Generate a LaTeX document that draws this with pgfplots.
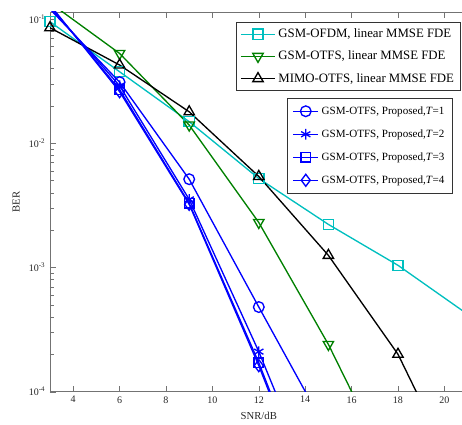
\documentclass[border=0pt]{standalone}
\usepackage{fontspec}
\setmainfont{Liberation Serif}
\usepackage{pgfplots}
\pgfplotsset{compat=1.18}
\definecolor{mcyan}{rgb}{0,0.75,0.75}
\definecolor{mgreen}{rgb}{0,0.5,0}
\begin{document}
\begin{tikzpicture}
\useasboundingbox (0,0) rectangle (346.5pt,318.75pt);
\begin{axis}[
  at={(37.5pt,25pt)}, anchor=south west,
  scale only axis, width=313.2pt, height=284.8pt,
  xmin=3, xmax=21, ymode=log, ymin=1e-4, ymax=0.1139,
  every axis plot/.append style={line width=1pt},
  legend cell align=left,
  legend image code/.code={\draw[mark repeat=2,mark phase=2] plot coordinates {(0cm,0cm) (0.45cm,0cm) (0.9cm,0cm)};},
  xtick={4,6,...,20},
  yticklabel={\pgfmathparse{int(round(\tick/2.302585093))}10\textsuperscript{\pgfmathresult}},
  tick align=inside,
  axis line style={black!55}, tick style={black!55},
  tick label style={font=\fontsize{7.5}{8}\selectfont, text=black!85},
  /pgf/number format/assume math mode=true,
  xlabel={SNR/dB}, ylabel={BER},
  label style={font=\fontsize{8}{9}\selectfont, text=black!85},
  legend style={at={(0.4454,0.974)}, anchor=north west, font=\fontsize{9.6}{10}\selectfont, draw=black!80, row sep=4.5pt, inner xsep=3pt, inner ysep=3pt},
]
\addplot[mcyan, mark=square, mark size=3.8pt] coordinates {(3,0.095) (6,0.0376) (9,0.0149) (12,0.0052) (15,0.00222) (18,0.00104) (21,0.00042)};
\addlegendentry{GSM-OFDM, linear MMSE FDE}
\addplot[mgreen, mark=triangle, mark size=4.5pt, mark options={rotate=180}] coordinates {(3,0.135) (6,0.0528) (9,0.0140) (12,0.0023) (15,0.00024) (18,1.75e-5)};
\addlegendentry{GSM-OTFS, linear MMSE FDE}
\addplot[black, mark=triangle, mark size=4.5pt] coordinates {(3,0.085) (6,0.0426) (9,0.0179) (12,0.0054) (15,0.00125) (18,0.0002) (21,1.42e-5)};
\addlegendentry{MIMO-OTFS, linear MMSE FDE}
\end{axis}
\begin{axis}[
  at={(37.5pt,25pt)}, anchor=south west,
  scale only axis, width=313.2pt, height=284.8pt,
  xmin=3, xmax=21, ymode=log, ymin=1e-4, ymax=0.1139,
  hide axis,
  every axis plot/.append style={line width=1pt},
  legend cell align=left,
  legend image code/.code={\draw[mark repeat=2,mark phase=2] plot coordinates {(0cm,0cm) (0.33cm,0cm) (0.66cm,0cm)};},
  legend style={at={(0.5675,0.773)}, anchor=north west, font=\fontsize{8.3}{10}\selectfont, draw=black!80, row sep=6pt, inner xsep=4pt, inner ysep=4pt},
]
\addplot[blue, mark=o, mark size=4pt] coordinates {(3,0.12) (6,0.031) (9,0.00513) (12,0.00048) (15,4.6e-5)};
\addlegendentry{GSM-OTFS, Proposed,\textit{T}=1}
\addplot[blue, mark=asterisk, mark size=4pt] coordinates {(3,0.125) (6,0.029) (9,0.00353) (12,0.00021) (15,9e-6)};
\addlegendentry{GSM-OTFS, Proposed,\textit{T}=2}
\addplot[blue, mark=square, mark size=3.5pt] coordinates {(3,0.128) (6,0.027) (9,0.00328) (12,0.000171) (15,6.3e-6)};
\addlegendentry{GSM-OTFS, Proposed,\textit{T}=3}
\addplot[blue, mark=diamond, mark size=4.5pt] coordinates {(3,0.13) (6,0.026) (9,0.00322) (12,0.000162) (15,6e-6)};
\addlegendentry{GSM-OTFS, Proposed,\textit{T}=4}
\end{axis}
\end{tikzpicture}
\end{document}
